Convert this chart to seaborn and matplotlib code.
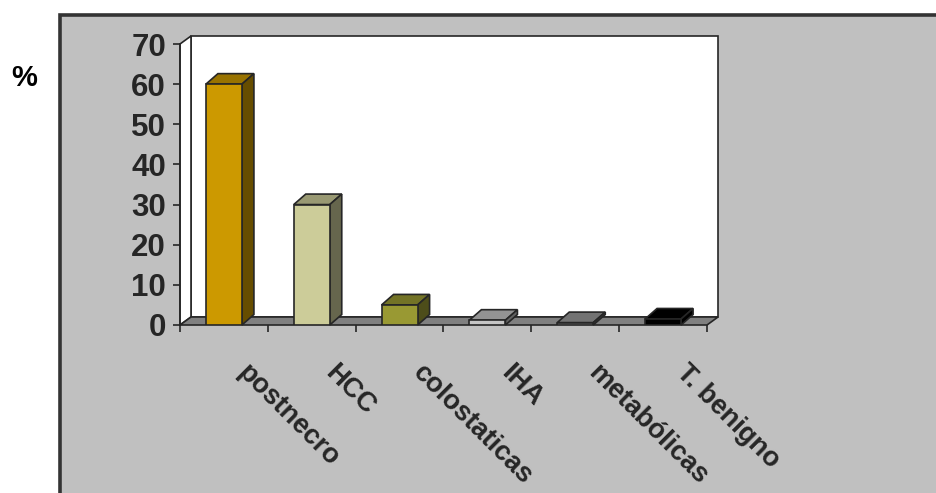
import numpy as np
import pandas as pd
import matplotlib
matplotlib.use("Agg")
import matplotlib.pyplot as plt
import seaborn as sns
from matplotlib.patches import Polygon, Rectangle
from matplotlib.colors import to_rgb

# data
categories = ["postnecro", "HCC", "colostaticas", "IHA", "metabólicas", "T. benigno"]
values = [60, 30, 5, 1.2, 0.6, 1.5]
bar_colors = ["#CC9900", "#CCCC99", "#999933", "#C4C4C4", "#9A9A9A", "#000000"]
y_ticks = [0, 10, 20, 30, 40, 50, 60, 70]
y_unit = "%"

sns.set_theme(style="white")
plt.rcParams["font.family"] = ["Liberation Sans", "DejaVu Sans"]
plt.rcParams["font.weight"] = "bold"

DARK = "#262626"
W, H = 937, 493
fig = plt.figure(figsize=(W / 100, H / 100), dpi=100)
fig.patch.set_facecolor("white")

# grey chart area with a dark frame
panel = Rectangle((60 / W, -0.1), 1.2, 1.1 - 15.5 / H, transform=fig.transFigure,
                  facecolor="#C0C0C0", edgecolor="#333333", linewidth=2.6, zorder=0)
fig.add_artist(panel)

ax = fig.add_axes([180 / W, (H - 325) / H, 527 / W, 281 / H])
ax.patch.set_visible(False)

df = pd.DataFrame({"cat": categories, "val": values})
sns.barplot(data=df, x="cat", y="val", hue="cat", palette=bar_colors, width=0.41,
            legend=False, saturation=1, edgecolor=DARK, linewidth=1.2, ax=ax, zorder=6)

ax.set_xlim(-0.5, len(categories) - 0.5)
ax.set_ylim(y_ticks[0], y_ticks[-1])

# data units per pixel
ux = len(categories) / 527
uy = (y_ticks[-1] - y_ticks[0]) / 281

# walls and floor of the box
wdx, wdy = 11 * ux, 8 * uy
x0, x1 = -0.5, len(categories) - 0.5
ytop = y_ticks[-1]
back = Polygon([(x0 + wdx, wdy), (x1 + wdx, wdy), (x1 + wdx, ytop + wdy), (x0 + wdx, ytop + wdy)],
               closed=True, facecolor="white", edgecolor=DARK, linewidth=1.2, zorder=1, clip_on=False)
side = Polygon([(x0, 0), (x0 + wdx, wdy), (x0 + wdx, ytop + wdy), (x0, ytop)],
               closed=True, facecolor="white", edgecolor=DARK, linewidth=1.2, zorder=1.5, clip_on=False)
floor = Polygon([(x0, 0), (x1, 0), (x1 + wdx, wdy), (x0 + wdx, wdy)],
                closed=True, facecolor="#808080", edgecolor=DARK, linewidth=1.2, zorder=2, clip_on=False)
for p in (back, side, floor):
    ax.add_patch(p)

# depth faces of each column
bdx, bdy = 12 * ux, 10.5 * uy
for patch, col in zip(list(ax.patches)[:len(categories)], bar_colors):
    bx, bw, bh = patch.get_x(), patch.get_width(), patch.get_height()
    base = np.array(to_rgb(col))
    top = Polygon([(bx, bh), (bx + bw, bh), (bx + bw + bdx, bh + bdy), (bx + bdx, bh + bdy)],
                  closed=True, facecolor=base * 0.75, edgecolor=DARK, linewidth=1.2,
                  zorder=5, clip_on=False)
    sd = Polygon([(bx + bw, 0), (bx + bw + bdx, bdy), (bx + bw + bdx, bh + bdy), (bx + bw, bh)],
                 closed=True, facecolor=base * 0.5, edgecolor=DARK, linewidth=1.2,
                 zorder=5, clip_on=False)
    ax.add_patch(top)
    ax.add_patch(sd)

for s in ("top", "right", "bottom"):
    ax.spines[s].set_visible(False)
ax.spines["left"].set_color(DARK)
ax.spines["left"].set_linewidth(1.2)
ax.spines["left"].set_zorder(3)

ax.set_yticks(y_ticks)
ax.set_yticklabels([str(t) for t in y_ticks])
ax.tick_params(axis="y", left=True, direction="out", length=5, width=1.2, color=DARK,
               labelsize=22.5, labelcolor=DARK, pad=5)
ax.set_xticks(np.arange(x0, x1 + 0.01, 1), minor=True)
ax.tick_params(axis="x", which="minor", bottom=True, direction="out", length=5, width=1.2,
               color=DARK)
ax.tick_params(axis="x", which="major", bottom=False, labelbottom=False)
ax.set_xlabel("")
ax.set_ylabel("")
for lab in ax.get_yticklabels():
    lab.set_fontweight("bold")

# slanted category labels hanging below each column
for i, cat in enumerate(categories):
    ax.annotate(cat, xy=(i, 0), xycoords=("data", "axes fraction"),
                xytext=(19, -25), textcoords="offset points",
                rotation=-45, rotation_mode="anchor", ha="left", va="top",
                fontsize=19.6, fontweight="bold", color=DARK, annotation_clip=False)

fig.text(24.5 / W, 1 - 77.5 / H, y_unit, ha="center", va="center", fontsize=21,
         fontweight="bold", color="black")

fig.savefig("out.png", dpi=100, facecolor="white")
